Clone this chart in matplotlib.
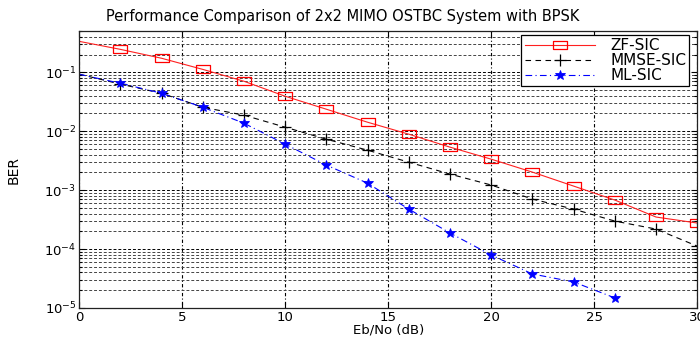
import matplotlib
matplotlib.use("Agg")
import matplotlib.pyplot as plt
from matplotlib.ticker import LogLocator, NullFormatter, MultipleLocator

plt.rcParams['font.family'] = ['DejaVu Sans']
plt.rcParams['mathtext.fontset'] = 'dejavusans'

snr_zf = [0, 2, 4, 6, 8, 10, 12, 14, 16, 18, 20, 22, 24, 26, 28, 30]
ber_zf = [0.335, 0.245, 0.173, 0.112, 0.0704, 0.0392, 0.0236, 0.0142, 0.0089,
          0.00536, 0.00335, 0.00202, 0.00117, 0.000678, 0.000349, 0.000276]

snr_mmse = [0, 2, 4, 6, 8, 10, 12, 14, 16, 18, 20, 22, 24, 26, 28, 30]
ber_mmse = [0.093, 0.063, 0.044, 0.0255, 0.0187, 0.0117, 0.00731, 0.00476, 0.00298,
            0.00187, 0.00122, 0.000704, 0.000476, 0.000298, 0.000218, 0.000112]

snr_ml = [0, 2, 4, 6, 8, 10, 12, 14, 16, 18, 20, 22, 24, 26]
ber_ml = [0.0925, 0.0651, 0.0441, 0.0255, 0.01367, 0.00603, 0.00266, 0.00131,
          0.000476, 0.000187, 7.91e-5, 3.77e-5, 2.76e-5, 1.48e-5]

labels = ['ZF-SIC', 'MMSE-SIC', 'ML-SIC']
title = 'Performance Comparison of 2x2 MIMO OSTBC System with BPSK'

rect = [(-1, -0.6), (1, -0.6), (1, 0.6), (-1, 0.6), (-1, -0.6)]

fig = plt.figure(figsize=(7.0, 3.38), dpi=100)
ax = fig.add_axes([0.113, 0.089, 0.883, 0.819])

ax.semilogy(snr_zf, ber_zf, color='#ff2020', ls='-', lw=0.8, marker=rect, ms=10,
            mfc='none', mec='red', mew=0.9, markevery=slice(1, None), label=labels[0])
ax.semilogy(snr_mmse, ber_mmse, color='black', ls=(0, (5, 4)), lw=0.8, marker='+', ms=9,
            mew=0.9, markevery=slice(1, None), label=labels[1])
ax.semilogy(snr_ml, ber_ml, color='blue', ls=(0, (6, 3, 1, 3)), lw=0.8, marker='*', ms=7.5,
            mew=0.6, markevery=slice(1, None), label=labels[2])

ax.set_xlim(0, 30)
ax.set_ylim(1e-5, 0.5)
ax.xaxis.set_major_locator(MultipleLocator(5))
ax.yaxis.set_major_locator(LogLocator(base=10, numticks=10))
ax.yaxis.set_minor_locator(LogLocator(base=10, subs=range(2, 10), numticks=20))
ax.yaxis.set_minor_formatter(NullFormatter())

ax.grid(True, which='major', axis='x', color='black', ls=(0, (1, 2, 3, 2)), lw=0.8)
ax.grid(True, which='major', axis='y', color='black', ls=(0, (3, 2)), lw=0.7)
ax.grid(True, which='minor', axis='y', color='#444444', ls=(0, (3, 2)), lw=0.7)

ax.tick_params(which='both', direction='in', top=True, right=True, labelsize=9.5, width=0.8)
ax.tick_params(which='major', length=4, pad=2)
ax.tick_params(which='minor', length=2)
for s in ax.spines.values():
    s.set_linewidth(0.9)
    s.set_color('#222222')

ax.set_title(title, fontsize=10.5, pad=7, x=0.427)
ax.set_xlabel('Eb/No (dB)', fontsize=9.5, labelpad=0)
ax.set_ylabel('BER', fontsize=10)
ax.yaxis.set_label_coords(-0.0947, 0.498)

leg = ax.legend(loc='upper right', fontsize=11, handlelength=4.6, frameon=True, fancybox=False,
                edgecolor='black', framealpha=1, borderpad=0.2, labelspacing=0.0,
                handletextpad=1.0, borderaxespad=0.0,
                bbox_to_anchor=(0.987, 0.985))
leg.get_frame().set_linewidth(0.9)

fig.savefig('out.png', dpi=100)
